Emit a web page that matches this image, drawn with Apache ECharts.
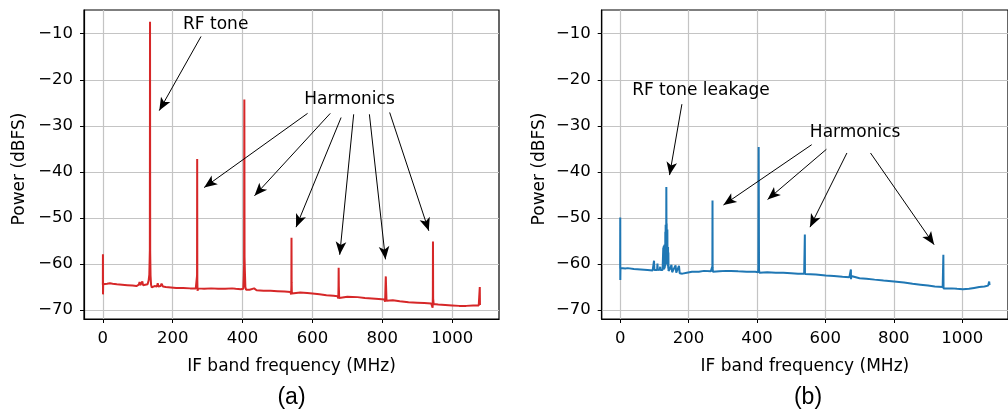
<!DOCTYPE html>
<html>
<head>
<meta charset="utf-8">
<script src="https://cdn.jsdelivr.net/npm/echarts@6/dist/echarts.min.js"></script>
<style>
  html, body { margin: 0; padding: 0; background: #ffffff; }
  #chart { width: 1008px; height: 414px; }
</style>
</head>
<body>
<div id="chart"></div>
<script>
// IF-band spectra: [frequency (MHz), power (dBFS)]
const spectrumA = [
  [0, -64.5], [0.2, -57.9], [0.4, -66.6], [0.8, -64.4], [5, -64.2], [12, -64.3], [20, -64.2],
  [25, -64.0], [28, -64.3], [40, -64.4], [55, -64.5], [70, -64.6], [85, -64.7], [96, -64.8],
  [103, -64.5], [105, -63.9], [107, -64.6], [111, -64.4], [113, -63.8], [115, -64.6], [120, -64.5],
  [128, -64.4], [131, -63.6], [133, -62.3], [134.5, -57.0], [135, -7.4], [135.5, -57.5], [136.5, -62.5],
  [138, -64.5], [140, -65.1], [148, -64.8], [155, -64.9], [157, -64.2], [159, -64.9], [165, -64.8],
  [168, -64.3], [170, -64.2], [172, -64.9], [180, -65.0], [195, -65.1], [210, -65.2], [230, -65.2],
  [250, -65.3], [266, -65.3], [269, -65.6], [269.6, -62.5], [270, -37.2], [270.4, -63.5], [271, -65.8],
  [273, -65.3], [290, -65.4], [310, -65.3], [330, -65.4], [350, -65.4], [370, -65.3], [375, -65.0],
  [380, -65.4], [395, -65.5], [402, -65.4], [403.5, -62.5], [404.2, -60.5], [405, -24.3], [405.6, -58.5],
  [406.5, -61.5], [408, -65.0], [410, -65.6], [420, -65.6], [433, -65.3], [440, -65.7], [460, -65.8],
  [480, -65.8], [500, -65.9], [520, -66.0], [537, -66.1], [539, -66.6], [539.6, -64.8], [540, -54.3],
  [540.4, -64.0], [541, -66.4], [545, -66.1], [565, -66.2], [585, -66.3], [600, -66.4], [620, -66.6],
  [640, -66.8], [660, -66.9], [672, -67.0], [674, -67.5], [674.6, -64.6], [675, -60.8], [675.5, -64.8],
  [676.5, -67.4], [680, -67.0], [700, -67.1], [729, -67.2], [750, -67.4], [770, -67.5], [790, -67.6],
  [806, -67.7], [808, -68.2], [809.5, -63.5], [810, -62.7], [810.6, -64.5], [812, -68.0], [815, -67.8],
  [830, -67.9], [850, -68.1], [875, -68.3], [900, -68.4], [920, -68.5], [940, -68.6], [943, -68.9],
  [944, -69.5], [944.6, -67.0], [945, -55.1], [945.5, -67.5], [947, -68.7], [960, -68.8], [980, -68.9],
  [1000, -69.0], [1020, -69.1], [1040, -69.1], [1060, -69.0], [1076, -69.0], [1078, -69.2],
  [1079, -65.0], [1079.5, -68.9]
];

const spectrumB = [
  [0, -61.0], [0.2, -49.9], [0.4, -63.5], [0.8, -60.9], [5, -61.0], [15, -61.0], [22, -60.9],
  [24, -60.6], [26, -61.0], [40, -61.1], [60, -61.2], [80, -61.3], [95, -61.4], [98, -61.2],
  [99, -59.3], [100, -61.3], [104, -61.0], [108, -61.3], [109, -59.9], [110, -61.3], [116, -61.2],
  [117, -60.6], [118, -61.3], [124, -61.3], [126, -56.5], [126.5, -61.0], [127, -56.2], [127.5, -61.2],
  [128, -56.0], [128.5, -61.2], [129, -56.4], [129.5, -61.0], [130, -55.8], [130.5, -60.8], [131, -55.9],
  [131.5, -60.5], [132, -53.0], [132.5, -60.2], [133, -51.5], [133.5, -60.0], [134, -51.8], [134.5, -58.0],
  [135, -43.3], [135.5, -55.0], [136, -51.2], [136.5, -57.5], [137, -56.0], [137.5, -60.0], [138, -52.5],
  [138.5, -60.0], [139, -56.8], [139.5, -60.5], [140, -56.3], [140.5, -61.0], [141, -57.5], [141.5, -61.5],
  [143, -61.8], [146, -61.0], [150, -60.2], [152, -61.8], [157, -61.5], [162, -60.3], [164, -61.9],
  [168, -61.6], [172, -60.4], [174, -62.0], [182, -62.1], [195, -61.9], [210, -61.7], [230, -61.7],
  [245, -61.5], [247.5, -61.2], [250, -61.6], [265, -61.6], [269, -61.7], [269.6, -60.5], [270, -46.2],
  [270.4, -60.8], [271, -61.7], [290, -61.6], [310, -61.5], [324, -61.5], [345, -61.6], [370, -61.7],
  [395, -61.7], [403, -61.8], [404, -61.0], [405, -34.6], [406, -61.2], [407, -61.9], [430, -61.8],
  [455, -61.9], [477, -61.9], [500, -62.0], [520, -62.1], [538, -62.1], [539.6, -62.3], [540, -53.6],
  [540.4, -62.2], [545, -62.2], [572, -62.3], [601, -62.5], [625, -62.6], [650, -62.8], [670, -62.9],
  [674, -63.0], [674.6, -61.2], [675, -63.3], [675.5, -62.6], [676, -63.0], [700, -63.1], [720, -63.2],
  [744, -63.4], [770, -63.6], [801, -63.8], [830, -64.0], [855, -64.3], [878, -64.5], [900, -64.7],
  [920, -64.9], [943, -65.0], [944.5, -65.4], [945, -58.0], [945.5, -65.3], [948, -65.1], [970, -65.3],
  [985, -65.4], [1002, -65.5], [1020, -65.4], [1035, -65.2], [1050, -65.0], [1065, -64.9], [1076, -64.7],
  [1078, -64.9], [1079, -63.8], [1080, -64.6]
];

const xTicks = [0, 200, 400, 600, 800, 1000];
const yTicks = [-70, -60, -50, -40, -30, -20, -10];
const panelLabels = ['(a)', '(b)'];

// Annotation labels and arrows, in data units: text anchor, then [from, to] pairs
const notesA = [
  { text: 'RF tone', at: [323, -8.1], arrows: [[[281, -10.6], [161.5, -26.7]]] },
  { text: 'Harmonics', at: [706, -24.4], arrows: [
    [[586, -27.3], [290, -43.4]], [[651, -27.3], [434, -45.2]], [[682, -28.2], [553, -52.0]],
    [[718, -27.5], [678, -58.0]], [[763, -27.5], [809, -59.0]], [[821, -27.1], [933, -52.8]]
  ] }
];
const notesB = [
  { text: 'RF tone leakage', at: [236, -22.4], arrows: [[[180.5, -25.3], [144.4, -40.7]]] },
  { text: 'Harmonics', at: [687, -31.5], arrows: [
    [[560, -34.1], [302, -47.2]], [[603, -35.1], [431, -46.0]], [[663, -35.9], [555, -52.0]],
    [[732, -35.9], [918, -55.8]]
  ] }
];

const FONT = 'DejaVu Sans';
const minus = v => String(v).replace('-', '\u2212');

function xAxisFor(idx) {
  return {
    type: 'value', gridIndex: idx, min: -54, max: 1134,
    name: 'IF band frequency (MHz)', nameLocation: 'middle', nameGap: 39,
    nameTextStyle: { fontFamily: FONT, fontSize: 17, color: '#000' },
    axisLine: { show: true, onZero: false, lineStyle: { color: '#000', width: 1.2 } },
    axisTick: { show: true, length: 4, customValues: xTicks, lineStyle: { color: '#000', width: 1 } },
    axisLabel: { customValues: xTicks, margin: 11, fontFamily: FONT, fontSize: 16.5, color: '#000',
                 formatter: v => minus(v) },
    splitLine: { show: true, lineStyle: { color: '#c4c4c4', width: 1.2 } }
  };
}
function yAxisFor(idx, gap) {
  return {
    type: 'value', gridIndex: idx, min: -71.95, max: -4.85,
    name: 'Power (dBFS)', nameLocation: 'middle', nameGap: gap,
    nameTextStyle: { fontFamily: FONT, fontSize: 17, color: '#000', padding: [0, 9, 0, 0] },
    axisLine: { show: true, onZero: false, lineStyle: { color: '#000', width: 1.2 } },
    axisTick: { show: true, length: 4, customValues: yTicks, lineStyle: { color: '#000', width: 1 } },
    axisLabel: { customValues: yTicks, margin: 11, fontFamily: FONT, fontSize: 16.5, color: '#000',
                 formatter: v => minus(v) },
    splitLine: { show: true, lineStyle: { color: '#c4c4c4', width: 1.2 } }
  };
}

function notesToMarks(notes) {
  const lines = [];
  const points = [];
  notes.forEach(n => {
    points.push({ name: n.text, coord: n.at });
    n.arrows.forEach(([from, to]) => {
      lines.push([{ coord: from, symbol: 'none' }, { coord: to, symbol: 'arrow' }]);
    });
  });
  return {
    markLine: {
      silent: true, animation: false, symbolSize: [8, 13],
      lineStyle: { color: '#000', width: 1, type: 'solid' },
      label: { show: false }, emphasis: { disabled: true },
      data: lines
    },
    markPoint: {
      silent: true, animation: false, symbol: 'circle', symbolSize: 0,
      itemStyle: { color: 'rgba(0,0,0,0)' },
      label: { show: true, position: 'inside', formatter: '{b}', fontFamily: FONT, fontSize: 17, color: '#000' },
      data: points
    }
  };
}

function spectrumSeries(idx, data, color, notes) {
  return Object.assign({
    type: 'line', xAxisIndex: idx, yAxisIndex: idx, data: data,
    showSymbol: false, symbol: 'none', sampling: false, clip: true,
    lineStyle: { color: color, width: 2 }, itemStyle: { color: color },
    animation: false
  }, notesToMarks(notes));
}

const chart = echarts.init(document.getElementById('chart'), null, { renderer: 'canvas' });
chart.setOption({
  backgroundColor: '#ffffff',
  animation: false,
  grid: [
    { left: 84, top: 10, width: 415, height: 309, show: true, borderColor: '#000', borderWidth: 1.2, backgroundColor: 'transparent' },
    { left: 601.7, top: 10, width: 414.6, height: 309, show: true, borderColor: '#000', borderWidth: 1.2, backgroundColor: 'transparent' }
  ],
  xAxis: [xAxisFor(0), xAxisFor(1)],
  yAxis: [yAxisFor(0, 56), yAxisFor(1, 54)],
  series: [
    spectrumSeries(0, spectrumA, '#d62728', notesA),
    spectrumSeries(1, spectrumB, '#1f77b4', notesB)
  ],
  graphic: [
    { type: 'text', x: 291.5, y: 398, style: { text: panelLabels[0], font: '23px "Liberation Sans"', fill: '#000', align: 'center', verticalAlign: 'middle' } },
    { type: 'text', x: 808, y: 398, style: { text: panelLabels[1], font: '23px "Liberation Sans"', fill: '#000', align: 'center', verticalAlign: 'middle' } }
  ]
});
</script>
</body>
</html>
